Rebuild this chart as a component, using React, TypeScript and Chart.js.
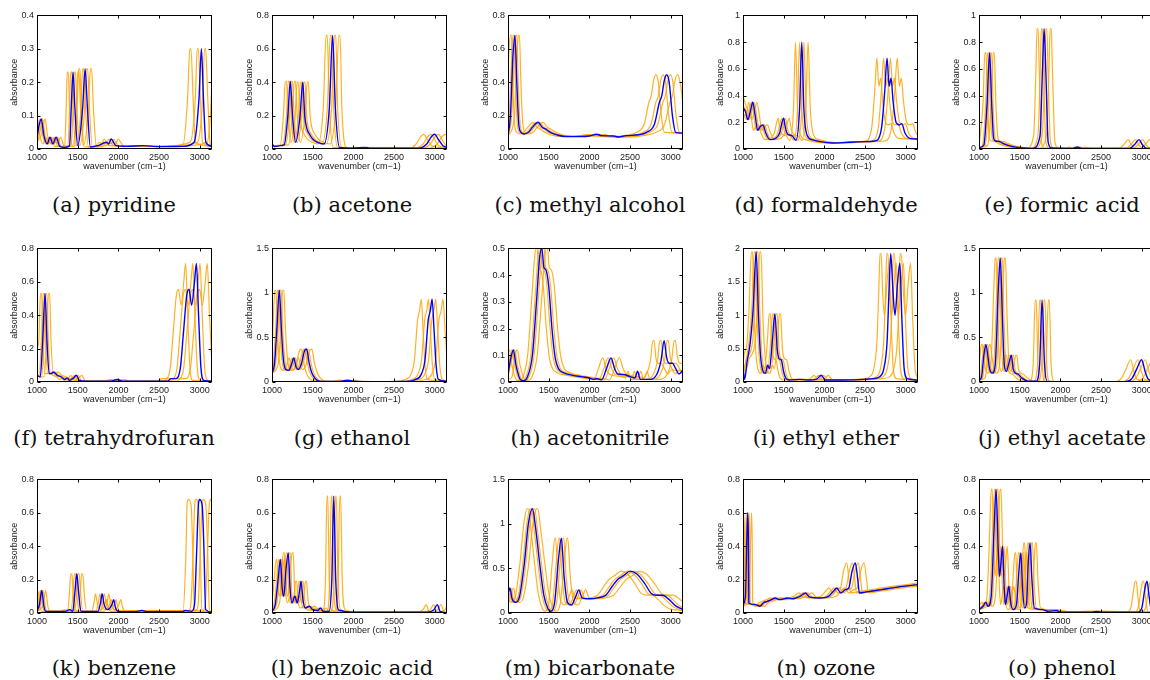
import React, { useEffect, useRef } from 'react';
import { Chart, registerables } from 'chart.js';

Chart.register(...registerables);

type Pt = [number, number];

const X_MIN = 1000;
const X_MAX = 3150;
const xTicks = [1000, 1500, 2000, 2500, 3000];
const yTicks04 = [0, 0.1, 0.2, 0.3, 0.4];
const yTicks05 = [0, 0.1, 0.2, 0.3, 0.4, 0.5];
const yTicks08 = [0, 0.2, 0.4, 0.6, 0.8];
const yTicks1 = [0, 0.2, 0.4, 0.6, 0.8, 1];
const yTicks15 = [0, 0.5, 1, 1.5];
const yTicks2 = [0, 0.5, 1, 1.5, 2];

const captions = [
  '(a) pyridine', '(b) acetone', '(c) methyl alcohol', '(d) formaldehyde', '(e) formic acid',
  '(f) tetrahydrofuran', '(g) ethanol', '(h) acetonitrile', '(i) ethyl ether', '(j) ethyl acetate',
  '(k) benzene', '(l) benzoic acid', '(m) bicarbonate', '(n) ozone', '(o) phenol',
];

// ---------- (a) pyridine ----------
const pyridineBlue: Pt[] = [[1000,0.03],[1025,0.07],[1052,0.09],[1085,0.04],[1125,0.015],[1160,0.035],[1195,0.015],[1235,0.035],[1280,0.008],[1340,0.005],[1400,0.01],[1420,0.12],[1443,0.23],[1466,0.12],[1500,0.01],[1560,0.12],[1591,0.24],[1620,0.12],[1655,0.006],[1750,0.01],[1853,0.02],[1880,0.015],[1910,0.03],[1970,0.01],[2100,0.008],[2300,0.01],[2500,0.007],[2800,0.008],[2930,0.02],[2990,0.15],[3020,0.3],[3045,0.15],[3075,0.02],[3150,0.008]];
const pyridineOrange1: Pt[] = [[1000,0.085],[1005,0.09],[1035,0.04],[1075,0.015],[1108,0.035],[1140,0.015],[1179,0.035],[1215,0.008],[1340,0.008],[1358,0.12],[1372,0.23],[1384,0.23],[1400,0.12],[1430,0.01],[1492,0.12],[1512,0.24],[1526,0.24],[1546,0.12],[1580,0.006],[1720,0.01],[1770,0.02],[1795,0.015],[1824,0.03],[1880,0.01],[2400,0.008],[2790,0.01],[2850,0.15],[2877,0.3],[2891,0.3],[2918,0.15],[2945,0.02],[3150,0.008]];
const pyridineOrange2: Pt[] = [[1000,0.04],[1036,0.09],[1070,0.04],[1110,0.015],[1143,0.035],[1178,0.015],[1216,0.035],[1255,0.008],[1380,0.008],[1400,0.12],[1414,0.23],[1428,0.23],[1444,0.12],[1477,0.01],[1540,0.12],[1560,0.24],[1574,0.24],[1596,0.12],[1630,0.006],[1760,0.01],[1825,0.02],[1852,0.015],[1881,0.03],[1940,0.01],[2500,0.008],[2880,0.02],[2945,0.15],[2968,0.3],[2982,0.3],[3008,0.15],[3035,0.02],[3150,0.008]];
const pyridineOrange3: Pt[] = [[1000,0.02],[1035,0.05],[1068,0.09],[1100,0.04],[1140,0.015],[1177,0.035],[1212,0.015],[1254,0.035],[1295,0.008],[1420,0.008],[1443,0.12],[1458,0.23],[1472,0.23],[1490,0.12],[1522,0.01],[1585,0.12],[1608,0.24],[1622,0.24],[1645,0.12],[1680,0.006],[1800,0.01],[1881,0.02],[1910,0.015],[1939,0.03],[2000,0.01],[2600,0.008],[2970,0.02],[3035,0.15],[3058,0.3],[3072,0.3],[3098,0.15],[3125,0.02],[3150,0.008]];
const pyridineOrange4: Pt[] = [[1000,0.02],[1065,0.05],[1099,0.09],[1130,0.04],[1175,0.015],[1212,0.035],[1250,0.015],[1291,0.035],[1335,0.008],[1460,0.008],[1485,0.12],[1501,0.23],[1515,0.23],[1535,0.12],[1568,0.01],[1632,0.12],[1656,0.24],[1670,0.24],[1694,0.12],[1730,0.006],[1850,0.01],[1936,0.02],[1965,0.015],[1996,0.03],[2060,0.01],[2700,0.008],[3090,0.02],[3130,0.1],[3150,0.21]];

// ---------- (b) acetone ----------
const acetoneBlue: Pt[] = [[1000,0.03],[1030,0.015],[1100,0.02],[1150,0.025],[1195,0.2],[1225,0.405],[1252,0.2],[1290,0.04],[1345,0.2],[1378,0.4],[1402,0.2],[1430,0.12],[1460,0.09],[1500,0.06],[1560,0.04],[1640,0.03],[1705,0.25],[1745,0.68],[1778,0.25],[1830,0.01],[2000,0.005],[2140,0.01],[2200,0.005],[2800,0.005],[2900,0.03],[2960,0.075],[3000,0.088],[3040,0.06],[3100,0.02],[3150,0.01]];
const acetoneOrange1: Pt[] = [[1000,0.02],[1100,0.02],[1140,0.2],[1163,0.405],[1177,0.405],[1200,0.2],[1232,0.04],[1285,0.2],[1309,0.4],[1323,0.4],[1345,0.2],[1366,0.12],[1395,0.09],[1433,0.06],[1490,0.04],[1565,0.03],[1630,0.25],[1664,0.68],[1678,0.68],[1705,0.25],[1750,0.01],[1900,0.005],[2040,0.01],[2100,0.005],[2700,0.005],[2770,0.03],[2830,0.075],[2865,0.088],[2905,0.06],[2960,0.02],[3150,0.005]];
const acetoneOrange2: Pt[] = [[1000,0.015],[1130,0.025],[1178,0.2],[1200,0.405],[1214,0.405],[1236,0.2],[1270,0.04],[1325,0.2],[1350,0.4],[1364,0.4],[1385,0.2],[1409,0.12],[1440,0.09],[1478,0.06],[1536,0.04],[1615,0.03],[1680,0.25],[1717,0.68],[1731,0.68],[1757,0.25],[1805,0.01],[1970,0.005],[2108,0.01],[2170,0.005],[2760,0.005],[2855,0.03],[2915,0.075],[2955,0.088],[2995,0.06],[3050,0.02],[3150,0.008]];
const acetoneOrange3: Pt[] = [[1000,0.02],[1160,0.025],[1215,0.2],[1236,0.405],[1250,0.405],[1272,0.2],[1310,0.04],[1365,0.2],[1392,0.4],[1406,0.4],[1425,0.2],[1451,0.12],[1482,0.09],[1522,0.06],[1583,0.04],[1665,0.03],[1732,0.25],[1769,0.68],[1783,0.68],[1806,0.25],[1858,0.01],[2030,0.005],[2172,0.01],[2230,0.005],[2840,0.005],[2945,0.03],[3005,0.075],[3045,0.088],[3085,0.06],[3140,0.02],[3150,0.018]];
const acetoneOrange4: Pt[] = [[1000,0.02],[1200,0.025],[1250,0.2],[1273,0.405],[1287,0.405],[1310,0.2],[1348,0.04],[1405,0.2],[1433,0.4],[1447,0.4],[1468,0.2],[1494,0.12],[1526,0.09],[1567,0.06],[1630,0.04],[1714,0.03],[1782,0.25],[1822,0.68],[1836,0.68],[1858,0.25],[1912,0.01],[2090,0.005],[2236,0.01],[2300,0.005],[2920,0.005],[3030,0.03],[3090,0.075],[3135,0.088],[3150,0.085]];

// ---------- (c) methyl alcohol ----------
const methylBlue: Pt[] = [[1000,0.08],[1030,0.2],[1060,0.55],[1085,0.68],[1108,0.4],[1132,0.15],[1160,0.1],[1200,0.09],[1250,0.1],[1300,0.13],[1370,0.16],[1420,0.13],[1460,0.12],[1520,0.1],[1600,0.085],[1700,0.075],[1900,0.075],[2000,0.078],[2090,0.088],[2150,0.08],[2300,0.078],[2360,0.072],[2450,0.08],[2600,0.085],[2700,0.1],[2800,0.15],[2860,0.28],[2890,0.32],[2920,0.41],[2950,0.445],[2980,0.4],[3020,0.2],[3060,0.1],[3150,0.095]];
const methylOrange1: Pt[] = [[1000,0.45],[1013,0.6],[1030,0.68],[1042,0.68],[1058,0.4],[1081,0.15],[1108,0.1],[1146,0.09],[1194,0.1],[1242,0.13],[1308,0.16],[1356,0.13],[1394,0.12],[1452,0.1],[1528,0.085],[1623,0.075],[1815,0.075],[1996,0.088],[2054,0.08],[2254,0.072],[2483,0.085],[2579,0.1],[2674,0.15],[2731,0.28],[2760,0.32],[2789,0.41],[2817,0.445],[2846,0.4],[2884,0.2],[2922,0.1],[3150,0.095]];
const methylOrange2: Pt[] = [[1000,0.08],[1015,0.2],[1045,0.55],[1062,0.68],[1076,0.68],[1092,0.4],[1115,0.15],[1143,0.1],[1182,0.09],[1231,0.1],[1281,0.13],[1349,0.16],[1399,0.13],[1438,0.12],[1497,0.1],[1576,0.085],[1674,0.075],[1970,0.078],[2059,0.088],[2118,0.08],[2325,0.072],[2561,0.085],[2660,0.1],[2758,0.15],[2817,0.28],[2847,0.32],[2876,0.41],[2906,0.445],[2935,0.4],[2975,0.2],[3014,0.1],[3150,0.095]];
const methylOrange3: Pt[] = [[1000,0.08],[1045,0.2],[1076,0.55],[1094,0.68],[1108,0.68],[1125,0.4],[1149,0.15],[1177,0.1],[1218,0.09],[1269,0.1],[1320,0.13],[1391,0.16],[1441,0.13],[1482,0.12],[1543,0.1],[1624,0.085],[1726,0.075],[2030,0.078],[2121,0.088],[2182,0.08],[2395,0.072],[2639,0.085],[2741,0.1],[2842,0.15],[2903,0.28],[2933,0.32],[2964,0.41],[2994,0.445],[3025,0.4],[3065,0.2],[3105,0.1],[3150,0.095]];
const methylOrange4: Pt[] = [[1000,0.08],[1080,0.2],[1108,0.55],[1127,0.68],[1141,0.68],[1158,0.4],[1183,0.15],[1212,0.1],[1254,0.09],[1306,0.1],[1359,0.13],[1432,0.16],[1484,0.13],[1526,0.12],[1588,0.1],[1672,0.085],[1777,0.075],[2090,0.078],[2184,0.088],[2247,0.08],[2466,0.072],[2717,0.085],[2822,0.1],[2926,0.15],[2989,0.28],[3020,0.32],[3051,0.41],[3083,0.445],[3114,0.4],[3150,0.27]];

// ---------- (d) formaldehyde ----------
const formaldehydeBlue: Pt[] = [[1000,0.31],[1030,0.28],[1060,0.22],[1090,0.28],[1120,0.35],[1150,0.25],[1180,0.14],[1215,0.17],[1245,0.18],[1280,0.12],[1330,0.07],[1400,0.08],[1450,0.12],[1480,0.2],[1500,0.23],[1520,0.16],[1550,0.11],[1600,0.1],[1650,0.065],[1695,0.3],[1722,0.8],[1748,0.3],[1790,0.1],[1850,0.07],[1950,0.055],[2100,0.045],[2300,0.05],[2500,0.055],[2620,0.06],[2700,0.15],[2740,0.42],[2770,0.68],[2795,0.47],[2818,0.53],[2845,0.35],[2880,0.2],[2920,0.18],[2950,0.19],[2990,0.12],[3050,0.08],[3150,0.075]];
const formaldehydeOrange1: Pt[] = [[1000,0.26],[1040,0.25],[1070,0.35],[1100,0.25],[1127,0.14],[1160,0.17],[1189,0.18],[1222,0.12],[1270,0.07],[1337,0.08],[1385,0.12],[1414,0.2],[1432,0.23],[1452,0.16],[1480,0.11],[1528,0.1],[1576,0.065],[1620,0.3],[1645,0.8],[1670,0.3],[1709,0.1],[1767,0.07],[1862,0.055],[2006,0.045],[2388,0.055],[2502,0.06],[2579,0.15],[2617,0.42],[2645,0.68],[2669,0.47],[2691,0.53],[2717,0.35],[2750,0.2],[2789,0.18],[2817,0.19],[2855,0.12],[2913,0.08],[3150,0.075]];
const formaldehydeOrange2: Pt[] = [[1000,0.27],[1044,0.22],[1074,0.28],[1103,0.35],[1133,0.25],[1162,0.14],[1197,0.17],[1226,0.18],[1261,0.12],[1310,0.07],[1379,0.08],[1428,0.12],[1458,0.2],[1478,0.23],[1498,0.16],[1527,0.11],[1576,0.1],[1625,0.065],[1670,0.3],[1696,0.8],[1722,0.3],[1763,0.1],[1822,0.07],[1921,0.055],[2069,0.045],[2463,0.055],[2581,0.06],[2660,0.15],[2699,0.42],[2728,0.68],[2753,0.47],[2776,0.53],[2802,0.35],[2837,0.2],[2876,0.18],[2906,0.19],[2945,0.12],[3004,0.08],[3150,0.075]];
const formaldehydeOrange3: Pt[] = [[1000,0.33],[1015,0.31],[1045,0.28],[1076,0.22],[1106,0.28],[1137,0.35],[1167,0.25],[1198,0.14],[1233,0.17],[1264,0.18],[1299,0.12],[1350,0.07],[1421,0.08],[1472,0.12],[1502,0.2],[1523,0.23],[1543,0.16],[1574,0.11],[1624,0.1],[1675,0.065],[1722,0.3],[1748,0.8],[1774,0.3],[1817,0.1],[1878,0.07],[1979,0.055],[2132,0.045],[2538,0.055],[2659,0.06],[2741,0.15],[2781,0.42],[2812,0.68],[2837,0.47],[2860,0.53],[2888,0.35],[2923,0.2],[2964,0.18],[2994,0.19],[3035,0.12],[3096,0.08],[3150,0.078]];
const formaldehydeOrange4: Pt[] = [[1000,0.4],[1045,0.31],[1076,0.28],[1108,0.22],[1139,0.28],[1170,0.35],[1202,0.25],[1233,0.14],[1270,0.17],[1301,0.18],[1338,0.12],[1390,0.07],[1463,0.08],[1515,0.12],[1547,0.2],[1568,0.23],[1589,0.16],[1620,0.11],[1672,0.1],[1724,0.065],[1771,0.3],[1800,0.8],[1827,0.3],[1871,0.1],[1933,0.07],[2038,0.055],[2195,0.045],[2612,0.055],[2738,0.06],[2822,0.15],[2863,0.42],[2895,0.68],[2921,0.47],[2945,0.53],[2973,0.35],[3010,0.2],[3051,0.18],[3083,0.19],[3125,0.12],[3150,0.1]];

// ---------- (e) formic acid ----------
const formicBlue: Pt[] = [[1000,0.01],[1060,0.03],[1100,0.35],[1130,0.72],[1155,0.35],[1180,0.08],[1205,0.06],[1255,0.055],[1300,0.04],[1400,0.02],[1500,0.01],[1660,0.005],[1750,0.1],[1780,0.6],[1800,0.9],[1820,0.6],[1850,0.05],[1890,0.008],[2150,0.005],[2210,0.015],[2260,0.005],[2850,0.005],[2920,0.04],[2965,0.07],[3010,0.03],[3060,0.005],[3150,0.005]];
const formicOrange1: Pt[] = [[1000,0.02],[1050,0.35],[1072,0.72],[1086,0.72],[1105,0.35],[1127,0.08],[1151,0.06],[1199,0.055],[1242,0.04],[1337,0.02],[1433,0.01],[1585,0.005],[1671,0.1],[1700,0.6],[1712,0.9],[1726,0.9],[1740,0.6],[1767,0.05],[1805,0.008],[2053,0.005],[2111,0.015],[2159,0.005],[2722,0.005],[2789,0.04],[2832,0.07],[2875,0.03],[2922,0.005],[3150,0.005]];
const formicOrange2: Pt[] = [[1000,0.01],[1044,0.03],[1083,0.35],[1106,0.72],[1120,0.72],[1138,0.35],[1162,0.08],[1187,0.06],[1236,0.055],[1281,0.04],[1379,0.02],[1478,0.01],[1635,0.005],[1724,0.1],[1753,0.6],[1766,0.9],[1780,0.9],[1793,0.6],[1822,0.05],[1862,0.008],[2118,0.005],[2177,0.015],[2226,0.005],[2807,0.005],[2876,0.04],[2921,0.07],[2965,0.03],[3014,0.005],[3150,0.005]];
const formicOrange3: Pt[] = [[1000,0.01],[1076,0.03],[1117,0.35],[1140,0.72],[1154,0.72],[1172,0.35],[1198,0.08],[1223,0.06],[1274,0.055],[1320,0.04],[1421,0.02],[1523,0.01],[1685,0.005],[1776,0.1],[1807,0.6],[1820,0.9],[1834,0.9],[1847,0.6],[1878,0.05],[1918,0.008],[2182,0.005],[2243,0.015],[2294,0.005],[2893,0.005],[2964,0.04],[3010,0.07],[3055,0.03],[3105,0.005],[3150,0.005]];
const formicOrange4: Pt[] = [[1000,0.01],[1108,0.03],[1150,0.35],[1174,0.72],[1188,0.72],[1207,0.35],[1233,0.08],[1259,0.06],[1312,0.055],[1359,0.04],[1463,0.02],[1568,0.01],[1735,0.005],[1829,0.1],[1860,0.6],[1874,0.9],[1888,0.9],[1902,0.6],[1933,0.05],[1975,0.008],[2247,0.005],[2309,0.015],[2362,0.005],[2978,0.005],[3051,0.04],[3098,0.07],[3145,0.03],[3150,0.028]];

// ---------- (f) tetrahydrofuran ----------
const thfBlue: Pt[] = [[1000,0.04],[1040,0.03],[1070,0.25],[1099,0.53],[1122,0.25],[1150,0.05],[1175,0.05],[1202,0.06],[1250,0.04],[1300,0.03],[1340,0.015],[1370,0.025],[1400,0.01],[1450,0.025],[1483,0.04],[1520,0.01],[1600,0.005],[1900,0.005],[1988,0.015],[2050,0.005],[2600,0.005],[2649,0.02],[2700,0.02],[2760,0.08],[2800,0.3],[2840,0.52],[2868,0.555],[2900,0.46],[2935,0.6],[2959,0.71],[2985,0.4],[3015,0.08],[3050,0.01],[3150,0.005]];
const thfOrange1: Pt[] = [[1000,0.2],[1022,0.25],[1043,0.53],[1057,0.53],[1072,0.25],[1098,0.05],[1122,0.05],[1148,0.06],[1194,0.04],[1242,0.03],[1280,0.015],[1308,0.025],[1337,0.01],[1385,0.025],[1416,0.04],[1452,0.01],[1528,0.005],[1815,0.005],[1899,0.015],[1958,0.005],[2480,0.005],[2530,0.02],[2580,0.02],[2636,0.08],[2674,0.3],[2712,0.52],[2739,0.555],[2770,0.46],[2803,0.6],[2826,0.71],[2851,0.4],[2880,0.08],[2913,0.01],[3150,0.005]];
const thfOrange2: Pt[] = [[1000,0.05],[1024,0.03],[1054,0.25],[1076,0.53],[1090,0.53],[1105,0.25],[1133,0.05],[1157,0.05],[1184,0.06],[1231,0.04],[1281,0.03],[1320,0.015],[1349,0.025],[1379,0.01],[1428,0.025],[1461,0.04],[1497,0.01],[1576,0.005],[1872,0.005],[1958,0.015],[2019,0.005],[2560,0.005],[2609,0.02],[2660,0.02],[2719,0.08],[2758,0.3],[2797,0.52],[2825,0.555],[2857,0.46],[2891,0.6],[2915,0.71],[2940,0.4],[2970,0.08],[3004,0.01],[3150,0.005]];
const thfOrange3: Pt[] = [[1000,0.04],[1056,0.03],[1086,0.25],[1108,0.53],[1122,0.53],[1139,0.25],[1167,0.05],[1193,0.05],[1220,0.06],[1269,0.04],[1320,0.03],[1360,0.015],[1391,0.025],[1421,0.01],[1472,0.025],[1505,0.04],[1543,0.01],[1624,0.005],[1929,0.005],[2018,0.015],[2081,0.005],[2640,0.005],[2689,0.02],[2741,0.02],[2801,0.08],[2842,0.3],[2883,0.52],[2911,0.555],[2944,0.46],[2979,0.6],[3003,0.71],[3030,0.4],[3060,0.08],[3096,0.01],[3150,0.005]];
const thfOrange4: Pt[] = [[1000,0.04],[1087,0.03],[1118,0.25],[1141,0.53],[1155,0.53],[1172,0.25],[1202,0.05],[1228,0.05],[1256,0.06],[1306,0.04],[1359,0.03],[1400,0.015],[1432,0.025],[1463,0.01],[1515,0.025],[1550,0.04],[1588,0.01],[1672,0.005],[1985,0.005],[2077,0.015],[2142,0.005],[2717,0.005],[2768,0.02],[2822,0.02],[2884,0.08],[2926,0.3],[2968,0.52],[2997,0.555],[3031,0.46],[3067,0.6],[3092,0.71],[3119,0.4],[3150,0.1]];

// ---------- (g) ethanol ----------
const ethanolBlue: Pt[] = [[1000,0.1],[1030,0.2],[1060,0.6],[1090,1.03],[1115,0.6],[1140,0.25],[1170,0.14],[1206,0.13],[1240,0.2],[1268,0.27],[1295,0.17],[1320,0.14],[1360,0.2],[1400,0.35],[1425,0.37],[1455,0.22],[1490,0.1],[1530,0.04],[1580,0.01],[1700,0.005],[1860,0.01],[1928,0.02],[1990,0.008],[2200,0.003],[2600,0.005],[2750,0.025],[2830,0.08],[2880,0.25],[2920,0.7],[2945,0.8],[2967,0.93],[2990,0.6],[3015,0.2],[3045,0.03],[3150,0.01]];
const ethanolOrange1: Pt[] = [[1000,0.3],[1012,0.6],[1035,1.03],[1048,1.03],[1065,0.6],[1089,0.25],[1117,0.14],[1152,0.13],[1184,0.2],[1211,0.27],[1237,0.17],[1261,0.14],[1299,0.2],[1337,0.35],[1361,0.37],[1390,0.22],[1423,0.1],[1461,0.04],[1509,0.01],[1624,0.005],[1776,0.01],[1841,0.02],[1900,0.008],[2483,0.005],[2626,0.025],[2703,0.08],[2750,0.25],[2789,0.7],[2812,0.8],[2834,0.93],[2855,0.6],[2879,0.2],[2908,0.03],[3150,0.01]];
const ethanolOrange2: Pt[] = [[1000,0.1],[1015,0.2],[1045,0.6],[1068,1.03],[1081,1.03],[1098,0.6],[1123,0.25],[1152,0.14],[1188,0.13],[1221,0.2],[1249,0.27],[1276,0.17],[1300,0.14],[1340,0.2],[1379,0.35],[1404,0.37],[1433,0.22],[1468,0.1],[1507,0.04],[1556,0.01],[1674,0.005],[1832,0.01],[1899,0.02],[1960,0.008],[2561,0.005],[2709,0.025],[2788,0.08],[2837,0.25],[2876,0.7],[2901,0.8],[2922,0.93],[2945,0.6],[2970,0.2],[2999,0.03],[3150,0.01]];
const ethanolOrange3: Pt[] = [[1000,0.1],[1045,0.2],[1076,0.6],[1100,1.03],[1113,1.03],[1132,0.6],[1157,0.25],[1188,0.14],[1224,0.13],[1259,0.2],[1287,0.27],[1314,0.17],[1340,0.14],[1380,0.2],[1421,0.35],[1446,0.37],[1477,0.22],[1512,0.1],[1553,0.04],[1604,0.01],[1726,0.005],[1888,0.01],[1957,0.02],[2020,0.008],[2639,0.005],[2791,0.025],[2872,0.08],[2923,0.25],[2964,0.7],[2989,0.8],[3011,0.93],[3035,0.6],[3060,0.2],[3091,0.03],[3150,0.01]];
const ethanolOrange4: Pt[] = [[1000,0.1],[1076,0.2],[1108,0.6],[1132,1.03],[1146,1.03],[1165,0.6],[1191,0.25],[1223,0.14],[1260,0.13],[1296,0.2],[1325,0.27],[1353,0.17],[1379,0.14],[1421,0.2],[1463,0.35],[1489,0.37],[1520,0.22],[1557,0.1],[1599,0.04],[1651,0.01],[1777,0.005],[1944,0.01],[2015,0.02],[2080,0.008],[2717,0.005],[2874,0.025],[2957,0.08],[3010,0.25],[3051,0.7],[3078,0.8],[3100,0.93],[3125,0.6],[3150,0.25]];

// ---------- (h) acetonitrile ----------
const acetonitrileBlue: Pt[] = [[1000,0.03],[1035,0.09],[1065,0.12],[1100,0.06],[1150,0.01],[1190,0.005],[1240,0.02],[1300,0.1],[1350,0.3],[1390,0.47],[1416,0.5],[1440,0.43],[1465,0.42],[1500,0.36],[1540,0.2],[1580,0.09],[1620,0.05],[1680,0.035],[1800,0.025],[1900,0.02],[2000,0.015],[2050,0.01],[2100,0.012],[2150,0.008],[2210,0.05],[2265,0.09],[2310,0.05],[2350,0.03],[2420,0.028],[2500,0.02],[2560,0.015],[2592,0.04],[2625,0.01],[2750,0.01],[2830,0.03],[2880,0.08],[2918,0.155],[2950,0.09],[2980,0.07],[3020,0.07],[3060,0.05],[3100,0.03],[3150,0.045]];
const acetonitrileOrange1: Pt[] = [[1000,0.11],[1017,0.12],[1050,0.06],[1098,0.01],[1135,0.005],[1184,0.02],[1241,0.1],[1289,0.3],[1328,0.47],[1345,0.5],[1359,0.5],[1375,0.43],[1399,0.42],[1433,0.36],[1471,0.2],[1509,0.09],[1547,0.05],[1604,0.035],[1719,0.025],[1910,0.015],[2005,0.01],[2055,0.008],[2111,0.05],[2163,0.09],[2206,0.05],[2245,0.03],[2388,0.02],[2445,0.015],[2475,0.04],[2507,0.01],[2626,0.01],[2703,0.03],[2750,0.08],[2780,0.155],[2794,0.155],[2817,0.09],[2846,0.07],[2884,0.07],[2922,0.05],[2961,0.03],[3008,0.045],[3150,0.04]];
const acetonitrileOrange2: Pt[] = [[1000,0.03],[1020,0.09],[1049,0.12],[1084,0.06],[1133,0.01],[1172,0.005],[1221,0.02],[1281,0.1],[1330,0.3],[1369,0.47],[1388,0.5],[1402,0.5],[1418,0.43],[1443,0.42],[1478,0.36],[1517,0.2],[1556,0.09],[1596,0.05],[1655,0.035],[1773,0.025],[1970,0.015],[2068,0.012],[2118,0.008],[2177,0.05],[2231,0.09],[2275,0.05],[2314,0.03],[2462,0.02],[2521,0.015],[2553,0.04],[2586,0.01],[2709,0.01],[2788,0.03],[2837,0.08],[2867,0.155],[2881,0.155],[2906,0.09],[2935,0.07],[2975,0.07],[3014,0.05],[3054,0.03],[3102,0.045],[3150,0.04]];
const acetonitrileOrange3: Pt[] = [[1000,0.02],[1050,0.09],[1081,0.12],[1117,0.06],[1167,0.01],[1208,0.005],[1259,0.02],[1320,0.1],[1370,0.3],[1411,0.47],[1430,0.5],[1444,0.5],[1462,0.43],[1487,0.42],[1523,0.36],[1563,0.2],[1604,0.09],[1644,0.05],[1705,0.035],[1827,0.025],[2030,0.015],[2132,0.012],[2183,0.008],[2243,0.05],[2299,0.09],[2345,0.05],[2385,0.03],[2538,0.02],[2598,0.015],[2631,0.04],[2664,0.01],[2791,0.01],[2872,0.03],[2923,0.08],[2955,0.155],[2969,0.155],[2994,0.09],[3025,0.07],[3065,0.07],[3106,0.05],[3147,0.03],[3150,0.03]];
const acetonitrileOrange4: Pt[] = [[1000,0.01],[1050,0.02],[1082,0.09],[1113,0.12],[1150,0.06],[1202,0.01],[1244,0.005],[1296,0.02],[1359,0.1],[1411,0.3],[1453,0.47],[1473,0.5],[1487,0.5],[1505,0.43],[1531,0.42],[1568,0.36],[1609,0.2],[1651,0.09],[1693,0.05],[1756,0.035],[1881,0.025],[2090,0.015],[2195,0.012],[2247,0.008],[2310,0.05],[2367,0.09],[2415,0.05],[2457,0.03],[2613,0.02],[2675,0.015],[2709,0.04],[2743,0.01],[2874,0.01],[2957,0.03],[3010,0.08],[3042,0.155],[3056,0.155],[3083,0.09],[3114,0.07],[3150,0.07]];

// ---------- (i) ethyl ether ----------
const etherBlue: Pt[] = [[1000,0.18],[1020,0.04],[1050,0.3],[1090,0.6],[1125,1.1],[1162,1.95],[1190,1.0],[1215,0.4],[1250,0.15],[1275,0.13],[1303,0.25],[1325,0.2],[1360,0.6],[1392,1.02],[1420,0.5],[1444,0.35],[1470,0.33],[1500,0.15],[1530,0.05],[1570,0.03],[1700,0.04],[1800,0.03],[1900,0.04],[1962,0.1],[2010,0.03],[2200,0.03],[2500,0.04],[2600,0.05],[2680,0.08],[2730,0.2],[2770,0.6],[2795,1.4],[2815,1.92],[2845,1.3],[2867,1.0],[2900,1.5],[2927,1.78],[2950,1.0],[2980,0.2],[3020,0.05],[3150,0.03]];
const etherOrange1: Pt[] = [[1000,0.25],[1013,0.4],[1050,0.6],[1074,1.1],[1103,1.95],[1117,1.95],[1137,1.0],[1160,0.4],[1194,0.15],[1218,0.13],[1244,0.25],[1265,0.2],[1299,0.6],[1322,1.02],[1336,1.02],[1356,0.5],[1379,0.35],[1404,0.33],[1433,0.15],[1461,0.05],[1499,0.03],[1624,0.04],[1719,0.03],[1815,0.04],[1874,0.1],[1920,0.03],[2101,0.03],[2388,0.04],[2483,0.05],[2559,0.08],[2607,0.2],[2645,0.6],[2669,1.4],[2683,1.92],[2697,1.92],[2717,1.3],[2738,1.0],[2770,1.5],[2795,1.78],[2817,1.0],[2846,0.2],[2884,0.05],[3150,0.03]];
const etherOrange2: Pt[] = [[1000,0.06],[1034,0.3],[1074,0.6],[1108,1.1],[1138,1.95],[1152,1.95],[1172,1.0],[1197,0.4],[1231,0.15],[1256,0.13],[1283,0.25],[1305,0.2],[1340,0.6],[1364,1.02],[1378,1.02],[1399,0.5],[1422,0.35],[1448,0.33],[1478,0.15],[1507,0.05],[1546,0.03],[1675,0.04],[1773,0.03],[1872,0.04],[1933,0.1],[1980,0.03],[2167,0.03],[2463,0.04],[2561,0.05],[2640,0.08],[2689,0.2],[2728,0.6],[2753,1.4],[2766,1.92],[2780,1.92],[2802,1.3],[2824,1.0],[2857,1.5],[2883,1.78],[2906,1.0],[2935,0.2],[2975,0.05],[3150,0.03]];
const etherOrange3: Pt[] = [[1000,0.12],[1015,0.2],[1045,0.35],[1117,0.6],[1142,1.1],[1172,1.95],[1186,1.95],[1208,1.0],[1233,0.4],[1269,0.15],[1294,0.13],[1323,0.25],[1345,0.2],[1380,0.6],[1406,1.02],[1420,1.02],[1441,0.5],[1466,0.35],[1492,0.33],[1523,0.15],[1553,0.05],[1594,0.03],[1726,0.04],[1827,0.03],[1929,0.04],[1991,0.1],[2040,0.03],[2233,0.03],[2538,0.04],[2639,0.05],[2720,0.08],[2771,0.2],[2812,0.6],[2837,1.4],[2845,1.92],[2859,1.92],[2888,1.3],[2910,1.0],[2944,1.5],[2971,1.78],[2994,1.0],[3025,0.2],[3065,0.05],[3150,0.03]];
const etherOrange4: Pt[] = [[1000,0.05],[1045,0.2],[1077,0.35],[1150,0.6],[1176,1.1],[1207,1.95],[1221,1.95],[1244,1.0],[1270,0.4],[1306,0.15],[1332,0.13],[1362,0.25],[1385,0.2],[1421,0.6],[1448,1.02],[1462,1.02],[1484,0.5],[1509,0.35],[1536,0.33],[1568,0.15],[1599,0.05],[1641,0.03],[1777,0.04],[1881,0.03],[1986,0.04],[2050,0.1],[2100,0.03],[2299,0.03],[2613,0.04],[2717,0.05],[2801,0.08],[2853,0.2],[2895,0.6],[2921,1.4],[2929,1.92],[2943,1.92],[2973,1.3],[2996,1.0],[3031,1.5],[3059,1.78],[3083,1.0],[3114,0.2],[3150,0.05]];

// ---------- (j) ethyl acetate ----------
const acetateBlue: Pt[] = [[1000,0.02],[1030,0.05],[1060,0.3],[1084,0.42],[1108,0.3],[1130,0.15],[1165,0.1],[1200,0.2],[1240,1.1],[1262,1.39],[1285,0.8],[1310,0.2],[1335,0.12],[1365,0.2],[1397,0.3],[1420,0.15],[1445,0.1],[1475,0.09],[1520,0.05],[1600,0.01],[1700,0.008],[1745,0.2],[1775,0.92],[1805,0.2],[1840,0.005],[2000,0.002],[2800,0.003],[2880,0.04],[2940,0.15],[2998,0.25],[3040,0.12],[3080,0.03],[3150,0.008]];
const acetateOrange1: Pt[] = [[1000,0.15],[1013,0.3],[1029,0.42],[1041,0.42],[1058,0.3],[1079,0.15],[1113,0.1],[1146,0.2],[1184,1.1],[1198,1.39],[1212,1.39],[1227,0.8],[1251,0.2],[1275,0.12],[1304,0.2],[1328,0.3],[1340,0.3],[1356,0.15],[1380,0.1],[1409,0.09],[1452,0.05],[1528,0.01],[1624,0.008],[1666,0.2],[1690,0.92],[1702,0.92],[1724,0.2],[1757,0.005],[1910,0.002],[2674,0.003],[2750,0.04],[2808,0.15],[2863,0.25],[2903,0.12],[2941,0.03],[3150,0.005]];
const acetateOrange2: Pt[] = [[1000,0.02],[1015,0.05],[1045,0.3],[1062,0.42],[1074,0.42],[1091,0.3],[1113,0.15],[1148,0.1],[1182,0.2],[1221,1.1],[1236,1.39],[1250,1.39],[1266,0.8],[1290,0.2],[1315,0.12],[1345,0.2],[1370,0.3],[1382,0.3],[1399,0.15],[1423,0.1],[1453,0.09],[1497,0.05],[1576,0.01],[1674,0.008],[1719,0.2],[1745,0.92],[1757,0.92],[1778,0.2],[1812,0.005],[1970,0.002],[2758,0.003],[2837,0.04],[2896,0.15],[2953,0.25],[2994,0.12],[3034,0.03],[3150,0.005]];
const acetateOrange3: Pt[] = [[1000,0.02],[1045,0.05],[1076,0.3],[1094,0.42],[1106,0.42],[1124,0.3],[1147,0.15],[1182,0.1],[1218,0.2],[1259,1.1],[1274,1.39],[1288,1.39],[1304,0.8],[1330,0.2],[1355,0.12],[1385,0.2],[1412,0.3],[1424,0.3],[1441,0.15],[1467,0.1],[1497,0.09],[1543,0.05],[1624,0.01],[1726,0.008],[1771,0.2],[1799,0.92],[1811,0.92],[1832,0.2],[1868,0.005],[2030,0.002],[2842,0.003],[2923,0.04],[2984,0.15],[3043,0.25],[3086,0.12],[3126,0.03],[3150,0.02]];
const acetateOrange4: Pt[] = [[1000,0.02],[1077,0.05],[1108,0.3],[1127,0.42],[1139,0.42],[1158,0.3],[1181,0.15],[1217,0.1],[1254,0.2],[1296,1.1],[1312,1.39],[1326,1.39],[1343,0.8],[1369,0.2],[1395,0.12],[1426,0.2],[1454,0.3],[1466,0.3],[1484,0.15],[1510,0.1],[1541,0.09],[1588,0.05],[1672,0.01],[1777,0.008],[1823,0.2],[1852,0.92],[1864,0.92],[1886,0.2],[1923,0.005],[2090,0.002],[2926,0.003],[3010,0.04],[3072,0.15],[3133,0.25],[3150,0.22]];

// ---------- (k) benzene ----------
const benzeneBlue: Pt[] = [[1000,0.01],[1030,0.05],[1058,0.135],[1085,0.04],[1110,0.01],[1350,0.01],[1400,0.02],[1440,0.01],[1465,0.12],[1489,0.235],[1512,0.12],[1540,0.01],[1750,0.01],[1780,0.06],[1800,0.115],[1825,0.05],[1870,0.02],[1920,0.05],[1942,0.08],[1965,0.03],[2000,0.01],[2200,0.008],[2290,0.015],[2350,0.008],[2780,0.008],[2822,0.015],[2900,0.01],[2935,0.05],[2960,0.35],[2985,0.66],[3000,0.68],[3030,0.64],[3050,0.4],[3072,0.02],[3150,0.005]];
const benzeneOrange1: Pt[] = [[1000,0.135],[1010,0.135],[1036,0.04],[1060,0.01],[1290,0.01],[1337,0.02],[1375,0.01],[1399,0.12],[1415,0.235],[1429,0.235],[1444,0.12],[1471,0.01],[1671,0.01],[1700,0.06],[1719,0.115],[1743,0.05],[1786,0.02],[1834,0.05],[1855,0.08],[1877,0.03],[1910,0.01],[2187,0.015],[2700,0.008],[2795,0.01],[2829,0.35],[2845,0.66],[2860,0.68],[2894,0.64],[2912,0.4],[2934,0.02],[3150,0.005]];
const benzeneOrange2: Pt[] = [[1000,0.01],[1015,0.05],[1042,0.135],[1069,0.04],[1093,0.01],[1330,0.01],[1379,0.02],[1418,0.01],[1443,0.12],[1460,0.235],[1474,0.235],[1489,0.12],[1517,0.01],[1724,0.01],[1753,0.06],[1773,0.115],[1798,0.05],[1842,0.02],[1891,0.05],[1913,0.08],[1936,0.03],[1970,0.01],[2256,0.015],[2780,0.008],[2860,0.01],[2890,0.05],[2917,0.35],[2940,0.66],[2955,0.68],[2985,0.64],[3004,0.4],[3026,0.02],[3150,0.005]];
const benzeneOrange3: Pt[] = [[1000,0.01],[1045,0.05],[1074,0.135],[1101,0.04],[1127,0.01],[1370,0.01],[1421,0.02],[1462,0.01],[1487,0.12],[1504,0.235],[1518,0.235],[1535,0.12],[1563,0.01],[1776,0.01],[1807,0.06],[1827,0.115],[1852,0.05],[1898,0.02],[1949,0.05],[1971,0.08],[1994,0.03],[2030,0.01],[2324,0.015],[2864,0.015],[2944,0.01],[2979,0.05],[3004,0.35],[3030,0.66],[3045,0.68],[3075,0.64],[3095,0.4],[3118,0.02],[3150,0.005]];
const benzeneOrange4: Pt[] = [[1000,0.01],[1076,0.05],[1106,0.135],[1134,0.04],[1160,0.01],[1411,0.01],[1463,0.02],[1505,0.01],[1531,0.12],[1549,0.235],[1563,0.235],[1580,0.12],[1609,0.01],[1829,0.01],[1860,0.06],[1881,0.115],[1907,0.05],[1954,0.02],[2006,0.05],[2029,0.08],[2053,0.03],[2090,0.01],[2393,0.015],[2949,0.015],[3030,0.01],[3067,0.05],[3093,0.35],[3119,0.66],[3135,0.68],[3150,0.66]];

// ---------- (l) benzoic acid ----------
const benzoicBlue: Pt[] = [[1000,0.01],[1040,0.05],[1075,0.2],[1103,0.32],[1125,0.15],[1145,0.1],[1170,0.25],[1200,0.36],[1222,0.15],[1245,0.06],[1281,0.1],[1310,0.06],[1335,0.12],[1357,0.19],[1380,0.08],[1410,0.03],[1460,0.04],[1500,0.02],[1560,0.015],[1594,0.03],[1630,0.01],[1700,0.01],[1735,0.2],[1759,0.7],[1783,0.2],[1815,0.02],[1850,0.015],[1900,0.008],[2100,0.005],[2900,0.005],[2990,0.02],[3031,0.05],[3065,0.01],[3150,0.002]];
const benzoicOrange1: Pt[] = [[1000,0.06],[1027,0.2],[1050,0.32],[1060,0.32],[1074,0.15],[1093,0.1],[1117,0.25],[1140,0.36],[1152,0.36],[1167,0.15],[1189,0.06],[1223,0.1],[1251,0.06],[1275,0.12],[1290,0.19],[1302,0.19],[1318,0.08],[1347,0.03],[1394,0.04],[1433,0.02],[1490,0.015],[1522,0.03],[1557,0.01],[1624,0.01],[1657,0.2],[1675,0.7],[1685,0.7],[1703,0.2],[1733,0.02],[1815,0.008],[2770,0.005],[2855,0.02],[2895,0.05],[2927,0.01],[3150,0.002]];
const benzoicOrange2: Pt[] = [[1000,0.01],[1024,0.05],[1059,0.2],[1081,0.32],[1091,0.32],[1108,0.15],[1128,0.1],[1152,0.25],[1177,0.36],[1189,0.36],[1204,0.15],[1226,0.06],[1262,0.1],[1290,0.06],[1315,0.12],[1331,0.19],[1343,0.19],[1359,0.08],[1389,0.03],[1438,0.04],[1478,0.02],[1537,0.015],[1570,0.03],[1606,0.01],[1675,0.01],[1709,0.2],[1728,0.7],[1738,0.7],[1756,0.2],[1788,0.02],[1870,0.008],[2857,0.005],[2945,0.02],[2986,0.05],[3019,0.01],[3150,0.002]];
const benzoicOrange3: Pt[] = [[1000,0.01],[1056,0.05],[1091,0.2],[1115,0.32],[1125,0.32],[1142,0.15],[1162,0.1],[1188,0.25],[1213,0.36],[1225,0.36],[1240,0.15],[1264,0.06],[1300,0.1],[1330,0.06],[1355,0.12],[1371,0.19],[1383,0.19],[1401,0.08],[1431,0.03],[1482,0.04],[1523,0.02],[1583,0.015],[1618,0.03],[1654,0.01],[1726,0.01],[1761,0.2],[1780,0.7],[1790,0.7],[1810,0.2],[1842,0.02],[1928,0.008],[2943,0.005],[3035,0.02],[3076,0.05],[3111,0.01],[3150,0.002]];
const benzoicOrange4: Pt[] = [[1000,0.01],[1087,0.05],[1123,0.2],[1148,0.32],[1158,0.32],[1176,0.15],[1197,0.1],[1223,0.25],[1249,0.36],[1261,0.36],[1277,0.15],[1301,0.06],[1339,0.1],[1369,0.06],[1395,0.12],[1412,0.19],[1424,0.19],[1442,0.08],[1473,0.03],[1526,0.04],[1568,0.02],[1630,0.015],[1666,0.03],[1703,0.01],[1777,0.01],[1813,0.2],[1833,0.7],[1843,0.7],[1863,0.2],[1897,0.02],[1986,0.008],[3030,0.005],[3125,0.02],[3150,0.04]];

// ---------- (m) bicarbonate ----------
const bicarbBlue: Pt[] = [[1000,0.22],[1022,0.28],[1050,0.16],[1090,0.12],[1140,0.18],[1200,0.55],[1250,1.0],[1300,1.17],[1340,0.95],[1390,0.55],[1440,0.2],[1490,0.05],[1520,0.02],[1570,0.1],[1620,0.6],[1655,0.84],[1690,0.4],[1730,0.12],[1780,0.09],[1830,0.18],[1870,0.26],[1910,0.17],[2000,0.16],[2100,0.17],[2200,0.2],[2280,0.3],[2350,0.38],[2420,0.42],[2500,0.47],[2580,0.44],[2680,0.33],[2760,0.22],[2830,0.2],[2900,0.2],[2980,0.15],[3060,0.08],[3150,0.04]];
const bicarbOrange1: Pt[] = [[1000,0.15],[1043,0.12],[1089,0.18],[1146,0.55],[1194,1.0],[1235,1.17],[1250,1.17],[1280,0.95],[1327,0.55],[1375,0.2],[1423,0.05],[1452,0.02],[1499,0.1],[1547,0.6],[1576,0.84],[1584,0.84],[1614,0.4],[1652,0.12],[1700,0.09],[1748,0.18],[1786,0.26],[1824,0.17],[1910,0.16],[2006,0.17],[2101,0.2],[2177,0.3],[2244,0.38],[2311,0.42],[2388,0.47],[2464,0.44],[2559,0.33],[2636,0.22],[2703,0.2],[2770,0.2],[2846,0.15],[2922,0.08],[3008,0.04],[3150,0.03]];
const bicarbOrange2: Pt[] = [[1000,0.28],[1034,0.16],[1074,0.12],[1123,0.18],[1182,0.55],[1231,1.0],[1274,1.17],[1289,1.17],[1320,0.95],[1369,0.55],[1418,0.2],[1468,0.05],[1497,0.02],[1546,0.1],[1596,0.6],[1626,0.84],[1634,0.84],[1665,0.4],[1704,0.12],[1753,0.09],[1803,0.18],[1842,0.26],[1881,0.17],[1970,0.16],[2069,0.17],[2167,0.2],[2246,0.3],[2315,0.38],[2384,0.42],[2463,0.47],[2541,0.44],[2640,0.33],[2719,0.22],[2788,0.2],[2857,0.2],[2935,0.15],[3014,0.08],[3102,0.04],[3150,0.035]];
const bicarbOrange3: Pt[] = [[1000,0.2],[1037,0.28],[1066,0.16],[1106,0.12],[1157,0.18],[1218,0.55],[1269,1.0],[1313,1.17],[1328,1.17],[1360,0.95],[1411,0.55],[1462,0.2],[1512,0.05],[1543,0.02],[1594,0.1],[1644,0.6],[1676,0.84],[1684,0.84],[1715,0.4],[1756,0.12],[1807,0.09],[1857,0.18],[1898,0.26],[1939,0.17],[2030,0.16],[2132,0.17],[2233,0.2],[2314,0.3],[2385,0.38],[2456,0.42],[2538,0.47],[2619,0.44],[2720,0.33],[2801,0.22],[2872,0.2],[2944,0.2],[3025,0.15],[3106,0.08],[3150,0.06]];
const bicarbOrange4: Pt[] = [[1000,0.1],[1068,0.28],[1097,0.16],[1139,0.12],[1191,0.18],[1254,0.55],[1306,1.0],[1351,1.17],[1366,1.17],[1400,0.95],[1453,0.55],[1505,0.2],[1557,0.05],[1588,0.02],[1641,0.1],[1693,0.6],[1725,0.84],[1733,0.84],[1766,0.4],[1808,0.12],[1860,0.09],[1912,0.18],[1954,0.26],[1996,0.17],[2090,0.16],[2195,0.17],[2299,0.2],[2383,0.3],[2456,0.38],[2529,0.42],[2613,0.47],[2696,0.44],[2801,0.33],[2884,0.22],[2957,0.2],[3031,0.2],[3114,0.15],[3150,0.12]];

// ---------- (n) ozone ----------
const ozoneBlue: Pt[] = [[1000,0.05],[1030,0.1],[1045,0.4],[1058,0.6],[1066,0.45],[1072,0.06],[1150,0.05],[1209,0.04],[1250,0.06],[1300,0.07],[1350,0.08],[1395,0.09],[1450,0.08],[1550,0.09],[1600,0.085],[1700,0.1],[1767,0.12],[1820,0.095],[1950,0.09],[2050,0.1],[2110,0.13],[2153,0.15],[2200,0.12],[2260,0.14],[2300,0.15],[2340,0.25],[2380,0.3],[2410,0.2],[2430,0.12],[2500,0.125],[2700,0.14],[2900,0.155],[3150,0.17]];
const ozoneOrange1: Pt[] = [[1000,0.45],[1010,0.6],[1018,0.45],[1024,0.06],[1098,0.05],[1155,0.04],[1194,0.06],[1242,0.07],[1289,0.08],[1332,0.09],[1385,0.08],[1480,0.09],[1528,0.085],[1623,0.1],[1687,0.12],[1738,0.095],[1862,0.09],[1958,0.1],[2015,0.13],[2056,0.15],[2101,0.12],[2158,0.14],[2197,0.15],[2235,0.25],[2273,0.3],[2302,0.2],[2321,0.12],[2388,0.125],[2579,0.14],[2770,0.155],[3008,0.17],[3150,0.18]];
const ozoneOrange2: Pt[] = [[1000,0.05],[1015,0.1],[1030,0.4],[1042,0.6],[1050,0.45],[1056,0.06],[1133,0.05],[1191,0.04],[1231,0.06],[1281,0.07],[1330,0.08],[1374,0.09],[1428,0.08],[1527,0.09],[1576,0.085],[1675,0.1],[1740,0.12],[1793,0.095],[1921,0.09],[2019,0.1],[2078,0.13],[2121,0.15],[2167,0.12],[2226,0.14],[2266,0.15],[2305,0.25],[2344,0.3],[2374,0.2],[2394,0.12],[2463,0.125],[2660,0.14],[2857,0.155],[3102,0.17],[3150,0.172]];
const ozoneOrange3: Pt[] = [[1000,0.04],[1046,0.1],[1061,0.4],[1074,0.6],[1082,0.45],[1088,0.06],[1167,0.05],[1227,0.04],[1269,0.06],[1320,0.07],[1370,0.08],[1416,0.09],[1472,0.08],[1573,0.09],[1624,0.085],[1726,0.1],[1793,0.12],[1847,0.095],[1979,0.09],[2081,0.1],[2142,0.13],[2185,0.15],[2233,0.12],[2294,0.14],[2335,0.15],[2375,0.25],[2416,0.3],[2446,0.2],[2466,0.12],[2538,0.125],[2741,0.14],[2944,0.155],[3150,0.165]];
const ozoneOrange4: Pt[] = [[1000,0.04],[1076,0.1],[1092,0.4],[1105,0.6],[1113,0.45],[1119,0.06],[1202,0.05],[1263,0.04],[1306,0.06],[1359,0.07],[1411,0.08],[1458,0.09],[1515,0.08],[1620,0.09],[1672,0.085],[1777,0.1],[1847,0.12],[1902,0.095],[2038,0.09],[2143,0.1],[2205,0.13],[2250,0.15],[2299,0.12],[2362,0.14],[2404,0.15],[2445,0.25],[2487,0.3],[2518,0.2],[2539,0.12],[2613,0.125],[2822,0.14],[3031,0.155],[3150,0.16]];

// ---------- (o) phenol ----------
const phenolBlue: Pt[] = [[1000,0.02],[1050,0.04],[1083,0.065],[1110,0.04],[1150,0.1],[1185,0.5],[1210,0.74],[1235,0.4],[1252,0.22],[1270,0.3],[1289,0.4],[1310,0.15],[1325,0.05],[1345,0.1],[1367,0.16],[1390,0.06],[1420,0.02],[1460,0.05],[1490,0.25],[1514,0.36],[1535,0.15],[1560,0.03],[1585,0.06],[1605,0.3],[1628,0.42],[1650,0.2],[1680,0.03],[1780,0.02],[1850,0.01],[1954,0.015],[2000,0.005],[2400,0.005],[2445,0.01],[2500,0.005],[2950,0.005],[3000,0.03],[3040,0.15],[3064,0.19],[3090,0.1],[3120,0.01],[3150,0.005]];
const phenolOrange1: Pt[] = [[1000,0.04],[1034,0.065],[1060,0.04],[1098,0.1],[1132,0.5],[1150,0.74],[1162,0.74],[1180,0.4],[1196,0.22],[1213,0.3],[1231,0.4],[1251,0.15],[1265,0.05],[1285,0.1],[1305,0.16],[1327,0.06],[1356,0.02],[1394,0.05],[1423,0.25],[1440,0.36],[1452,0.36],[1466,0.15],[1490,0.03],[1514,0.06],[1533,0.3],[1550,0.42],[1560,0.42],[1576,0.2],[1604,0.03],[1700,0.02],[1866,0.015],[1910,0.005],[2335,0.01],[2817,0.005],[2865,0.03],[2903,0.15],[2920,0.19],[2932,0.19],[2951,0.1],[2980,0.01],[3150,0.005]];
const phenolOrange2: Pt[] = [[1000,0.03],[1034,0.04],[1067,0.065],[1093,0.04],[1133,0.1],[1167,0.5],[1192,0.74],[1204,0.74],[1216,0.4],[1233,0.22],[1251,0.3],[1270,0.4],[1290,0.15],[1305,0.05],[1325,0.1],[1347,0.16],[1369,0.06],[1399,0.02],[1438,0.05],[1467,0.25],[1485,0.36],[1497,0.36],[1512,0.15],[1537,0.03],[1561,0.06],[1581,0.3],[1599,0.42],[1609,0.42],[1625,0.2],[1655,0.03],[1753,0.02],[1925,0.015],[1970,0.005],[2408,0.01],[2906,0.005],[2955,0.03],[2994,0.15],[3012,0.19],[3024,0.19],[3044,0.1],[3073,0.01],[3150,0.005]];
const phenolOrange3: Pt[] = [[1000,0.02],[1066,0.04],[1099,0.065],[1127,0.04],[1167,0.1],[1203,0.5],[1222,0.74],[1234,0.74],[1254,0.4],[1271,0.22],[1289,0.3],[1308,0.4],[1330,0.15],[1345,0.05],[1365,0.1],[1387,0.16],[1411,0.06],[1441,0.02],[1482,0.05],[1512,0.25],[1531,0.36],[1543,0.36],[1558,0.15],[1583,0.03],[1609,0.06],[1629,0.3],[1647,0.42],[1657,0.42],[1675,0.2],[1705,0.03],[1807,0.02],[1983,0.015],[2030,0.005],[2482,0.01],[2994,0.005],[3045,0.03],[3086,0.15],[3104,0.19],[3116,0.19],[3137,0.1],[3150,0.05]];
const phenolOrange4: Pt[] = [[1000,0.02],[1097,0.04],[1132,0.065],[1160,0.04],[1202,0.1],[1238,0.5],[1258,0.74],[1270,0.74],[1290,0.4],[1308,0.22],[1327,0.3],[1347,0.4],[1369,0.15],[1384,0.05],[1406,0.1],[1428,0.16],[1453,0.06],[1484,0.02],[1526,0.05],[1557,0.25],[1576,0.36],[1588,0.36],[1604,0.15],[1630,0.03],[1656,0.06],[1677,0.3],[1695,0.42],[1705,0.42],[1724,0.2],[1756,0.03],[1860,0.02],[2042,0.015],[2090,0.005],[2555,0.01],[3083,0.005],[3135,0.03],[3150,0.06]];

// ---------- panel table ----------
type PanelDef = { caption: string; yTicks: number[]; blue: Pt[]; orange: Pt[][] };

const panels: PanelDef[] = [
  { caption: captions[0], yTicks: yTicks04, blue: pyridineBlue, orange: [pyridineOrange1, pyridineOrange2, pyridineOrange3, pyridineOrange4] },
  { caption: captions[1], yTicks: yTicks08, blue: acetoneBlue, orange: [acetoneOrange1, acetoneOrange2, acetoneOrange3, acetoneOrange4] },
  { caption: captions[2], yTicks: yTicks08, blue: methylBlue, orange: [methylOrange1, methylOrange2, methylOrange3, methylOrange4] },
  { caption: captions[3], yTicks: yTicks1, blue: formaldehydeBlue, orange: [formaldehydeOrange1, formaldehydeOrange2, formaldehydeOrange3, formaldehydeOrange4] },
  { caption: captions[4], yTicks: yTicks1, blue: formicBlue, orange: [formicOrange1, formicOrange2, formicOrange3, formicOrange4] },
  { caption: captions[5], yTicks: yTicks08, blue: thfBlue, orange: [thfOrange1, thfOrange2, thfOrange3, thfOrange4] },
  { caption: captions[6], yTicks: yTicks15, blue: ethanolBlue, orange: [ethanolOrange1, ethanolOrange2, ethanolOrange3, ethanolOrange4] },
  { caption: captions[7], yTicks: yTicks05, blue: acetonitrileBlue, orange: [acetonitrileOrange1, acetonitrileOrange2, acetonitrileOrange3, acetonitrileOrange4] },
  { caption: captions[8], yTicks: yTicks2, blue: etherBlue, orange: [etherOrange1, etherOrange2, etherOrange3, etherOrange4] },
  { caption: captions[9], yTicks: yTicks15, blue: acetateBlue, orange: [acetateOrange1, acetateOrange2, acetateOrange3, acetateOrange4] },
  { caption: captions[10], yTicks: yTicks08, blue: benzeneBlue, orange: [benzeneOrange1, benzeneOrange2, benzeneOrange3, benzeneOrange4] },
  { caption: captions[11], yTicks: yTicks08, blue: benzoicBlue, orange: [benzoicOrange1, benzoicOrange2, benzoicOrange3, benzoicOrange4] },
  { caption: captions[12], yTicks: yTicks15, blue: bicarbBlue, orange: [bicarbOrange1, bicarbOrange2, bicarbOrange3, bicarbOrange4] },
  { caption: captions[13], yTicks: yTicks08, blue: ozoneBlue, orange: [ozoneOrange1, ozoneOrange2, ozoneOrange3, ozoneOrange4] },
  { caption: captions[14], yTicks: yTicks08, blue: phenolBlue, orange: [phenolOrange1, phenolOrange2, phenolOrange3, phenolOrange4] },
];

// ---------- layout ----------
const COL_LEFT = [37, 272, 508, 743, 979];
const ROW_TOP = [15, 248, 479];
const PLOT_W = 175;
const PLOT_H = 134;
const Y_AXIS_W = 37;
const X_AXIS_H = 25;
const PAD_TOP = 8;
const PAD_RIGHT = 12;
const CAP_X = [114, 352, 590, 826, 1062];
const CAP_Y = [205, 438, 668];

const TEXT = '#222222';
const SANS = "'Liberation Sans', Arial, Helvetica, sans-serif";

const framePlugin = {
  id: 'matlabFrame',
  afterDraw(chart: any) {
    const { ctx, chartArea, scales } = chart;
    const { left, right, top, bottom } = chartArea;
    const opts = chart.options.plugins.matlabFrame || {};
    const xt: number[] = opts.xTicks || [];
    const yt: number[] = opts.yTicks || [];
    ctx.save();
    ctx.strokeStyle = '#000';
    ctx.lineWidth = 1;
    const L = Math.round(left) + 0.5;
    const R = Math.round(right) - 0.5;
    const T = Math.round(top) + 0.5;
    const B = Math.round(bottom) - 0.5;
    ctx.strokeRect(L, T, R - L, B - T);
    ctx.beginPath();
    const tl = 3;
    xt.forEach((v) => {
      const px = Math.round(scales.x.getPixelForValue(v)) + 0.5;
      ctx.moveTo(px, B); ctx.lineTo(px, B - tl);
      ctx.moveTo(px, T); ctx.lineTo(px, T + tl);
    });
    yt.forEach((v) => {
      const py = Math.round(scales.y.getPixelForValue(v)) + 0.5;
      ctx.moveTo(L, py); ctx.lineTo(L + tl, py);
      ctx.moveTo(R, py); ctx.lineTo(R - tl, py);
    });
    ctx.stroke();
    ctx.restore();
  },
};

function Panel({ def, col, row }: { def: PanelDef; col: number; row: number }) {
  const ref = useRef<HTMLCanvasElement | null>(null);
  const cw = Y_AXIS_W + PLOT_W + PAD_RIGHT;
  const ch = PAD_TOP + PLOT_H + X_AXIS_H;

  useEffect(() => {
    if (!ref.current) return;
    const toXY = (arr: Pt[]) => arr.map(([x, y]) => ({ x, y }));
    const datasets: any[] = [
      {
        data: toXY(def.blue),
        borderColor: '#0000ff',
        borderWidth: 1.4,
        pointRadius: 0,
        fill: false,
        cubicInterpolationMode: 'monotone',
      },
      ...def.orange.map((o) => ({
        data: toXY(o),
        borderColor: 'rgba(255,163,0,0.85)',
        borderWidth: 1.2,
        pointRadius: 0,
        fill: false,
        cubicInterpolationMode: 'monotone',
      })),
    ];
    const ymax = def.yTicks[def.yTicks.length - 1];
    const chart = new Chart(ref.current, {
      type: 'line',
      data: { datasets },
      plugins: [framePlugin],
      options: {
        responsive: false,
        animation: false,
        events: [],
        layout: { padding: { top: PAD_TOP, right: PAD_RIGHT, left: 0, bottom: 0 } },
        plugins: {
          legend: { display: false },
          tooltip: { enabled: false },
          matlabFrame: { xTicks, yTicks: def.yTicks },
        } as any,
        scales: {
          x: {
            type: 'linear',
            min: X_MIN,
            max: X_MAX,
            grid: { display: false, drawTicks: false },
            border: { display: false },
            afterBuildTicks: (s: any) => { s.ticks = xTicks.map((v) => ({ value: v })); },
            afterFit: (s: any) => { s.height = X_AXIS_H; },
            ticks: {
              autoSkip: false,
              maxRotation: 0,
              padding: 3,
              color: TEXT,
              font: { family: SANS, size: 9 },
              callback: (v: any) => String(v),
            },
            title: {
              display: true,
              text: 'wavenumber (cm−1)',
              color: TEXT,
              font: { family: SANS, size: 9 },
              padding: { top: 0, bottom: 2 },
            },
          },
          y: {
            type: 'linear',
            min: 0,
            max: ymax,
            grid: { display: false, drawTicks: false },
            border: { display: false },
            afterBuildTicks: (s: any) => { s.ticks = def.yTicks.map((v) => ({ value: v })); },
            afterFit: (s: any) => { s.width = Y_AXIS_W; },
            ticks: {
              autoSkip: false,
              padding: 3,
              color: TEXT,
              font: { family: SANS, size: 9 },
              callback: (v: any) => String(v),
            },
            title: {
              display: true,
              text: 'absorbance',
              color: TEXT,
              font: { family: SANS, size: 9 },
              padding: { top: 9, bottom: 0 },
            },
          },
        },
      } as any,
    });
    return () => chart.destroy();
  }, [def]);

  return (
    <canvas
      ref={ref}
      width={cw}
      height={ch}
      style={{
        position: 'absolute',
        left: COL_LEFT[col] - Y_AXIS_W,
        top: ROW_TOP[row] - PAD_TOP,
        width: cw,
        height: ch,
      }}
    />
  );
}

export default function App() {
  return (
    <div
      style={{
        position: 'absolute',
        left: 0,
        top: 0,
        width: 1150,
        height: 680,
        overflow: 'hidden',
        background: '#ffffff',
      }}
    >
      {panels.map((p, i) => {
        const col = i % 5;
        const row = Math.floor(i / 5);
        return (
          <React.Fragment key={i}>
            <Panel def={p} col={col} row={row} />
            <div
              style={{
                position: 'absolute',
                left: CAP_X[col] - 120,
                width: 240,
                top: CAP_Y[row] - 14,
                height: 28,
                lineHeight: '28px',
                textAlign: 'center',
                fontFamily: "'DejaVu Serif', 'Liberation Serif', serif",
                fontSize: 21,
                color: '#111',
                whiteSpace: 'nowrap',
              }}
            >
              {p.caption}
            </div>
          </React.Fragment>
        );
      })}
    </div>
  );
}
